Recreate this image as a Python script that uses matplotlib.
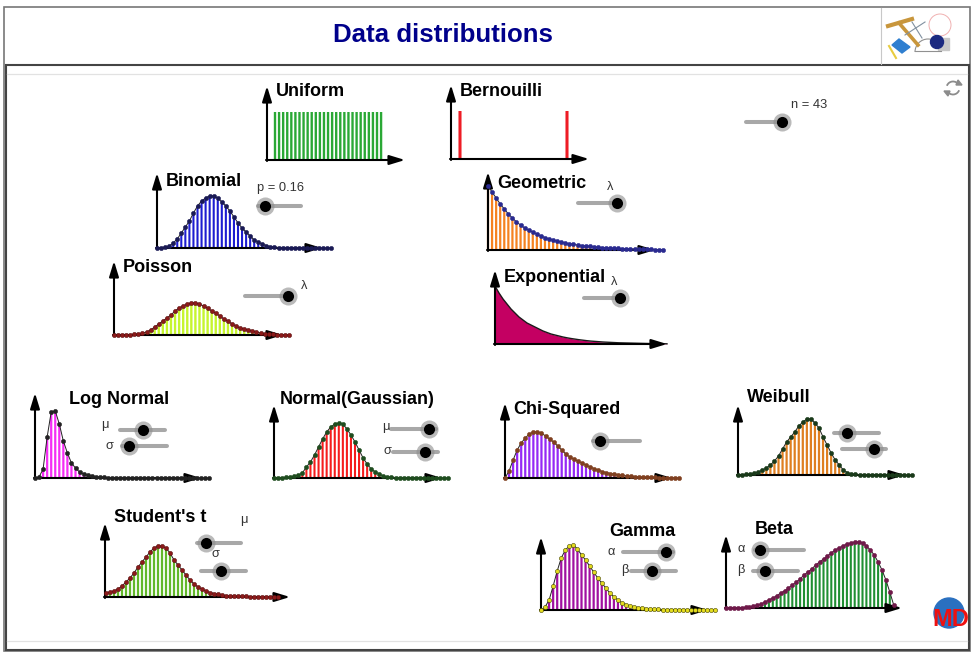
import matplotlib
matplotlib.use('Agg')
import matplotlib.pyplot as plt
from matplotlib.patches import Rectangle, Circle, Arc, Polygon

plt.rcParams['font.family'] = ['Liberation Sans', 'DejaVu Sans']

# Heights of each distribution
uniform = [48] * 27
bernoulli = [48, 48]
binomial = [0, 0.3, 1, 2, 5, 9, 15, 21, 27, 35, 42, 47, 50, 52, 52, 50, 46, 42, 37, 31, 25, 20,
            16, 12, 8, 6, 4, 2.5, 1.5, 1, 0.5, 0.3, 0.2, 0.1, 0.1, 0, 0, 0, 0, 0, 0, 0, 0, 0]
poisson = [0, 0, 0, 0, 0.3, 0.6, 1, 2, 3, 5, 8, 11, 14, 17, 20, 24, 27, 29, 31, 32, 32, 31,
           29, 27, 24, 22, 19, 16, 14, 11, 9, 7, 6, 5, 4, 3, 2, 1.5, 1, 0.7, 0.5, 0.3, 0.2, 0]
geometric = [64, 58, 52, 46, 41, 36, 32, 28, 25, 22, 20, 18, 16, 14, 12.5, 11, 10, 9, 8, 7, 6.3, 5.6,
             5, 4.5, 4, 3.6, 3.2, 2.8, 2.5, 2.2, 2, 1.8, 1.6, 1.4, 1.2, 1.1, 1, 0.9, 0.8, 0.7, 0.6, 0.5, 0.5, 0.4]
exponential = [58, 51, 45, 40, 35, 31, 27, 24, 21, 19, 17, 15, 13, 11.5, 10, 9, 8, 7, 6.2, 5.5, 4.9, 4.3,
               3.8, 3.3, 2.9, 2.6, 2.3, 2, 1.8, 1.6, 1.4, 1.2, 1.1, 1, 0.9, 0.8, 0.7, 0.6, 0.5, 0.4, 0.4, 0.3, 0.3, 0.2]
log_normal = [0, 1, 9, 41, 66, 67, 54, 37, 25, 15, 10, 6, 4, 3, 2, 1.5, 1, 0.7, 0.5, 0.4, 0.3, 0.2,
              0.2, 0.1, 0.1, 0.1, 0, 0, 0, 0, 0, 0, 0, 0, 0, 0, 0, 0, 0, 0, 0, 0, 0, 0]
normal = [0, 0, 0.3, 0.6, 1, 2, 3, 5, 11, 16, 23, 31, 39, 46, 51, 54, 55, 54, 49, 43, 36, 28,
          20, 14, 9, 6, 4, 2, 1.3, 0.8, 0.5, 0.3, 0.2, 0.1, 0, 0, 0, 0, 0, 0, 0, 0, 0, 0]
chi_squared = [0, 7, 18, 28, 35, 40, 44, 46, 46, 45, 42, 39, 36, 32, 28, 24, 21, 19, 17, 15, 13, 11,
               9.5, 8, 6.5, 5.5, 4.5, 3.8, 3.1, 2.6, 2.1, 1.8, 1.5, 1.2, 1, 0.8, 0.7, 0.6, 0.5, 0.4, 0.3, 0.3, 0.2, 0.2]
weibull = [0, 0.3, 0.6, 1, 2, 3, 5, 7, 10, 14, 19, 26, 33, 38, 43, 49, 53, 56, 56, 52, 47, 38,
           30, 22, 15, 10, 5, 2.5, 1, 0.6, 0.4, 0.3, 0.2, 0.1, 0, 0, 0, 0, 0, 0, 0, 0, 0, 0]
student_t = [4, 5, 6, 8, 11, 15, 19, 24, 30, 35, 40, 45, 49, 51, 51, 49, 44, 37, 32, 27, 22, 17,
             13, 10, 8, 6, 4.5, 3.5, 2.7, 2, 1.5, 1.2, 1, 0.8, 0.7, 0.6, 0.5, 0.4, 0.3, 0.3, 0.2, 0.2, 0.1, 0.1]
gamma = [0, 3, 10, 24, 39, 52, 60, 64, 65, 61, 55, 50, 44, 38, 32, 27, 22, 17, 13, 10, 7, 5.5,
         4, 3, 2.5, 2, 1.5, 1.1, 0.9, 0.7, 0.5, 0.4, 0.3, 0.3, 0.2, 0.2, 0.1, 0.1, 0.1, 0, 0, 0, 0, 0]
beta = [0, 0, 0.1, 0.2, 0.4, 0.7, 1.2, 2, 3, 4, 6, 8, 10, 12, 15, 17, 20, 23, 26, 29, 33, 36,
        39, 43, 46, 49, 52, 55, 58, 60, 62, 64, 65, 66, 66, 65, 62, 58, 53, 46, 38, 28, 16, 3]

# heights, axis x, axis y, arrow top, arrow end, first stem offset, step, stem colour, stem width, marker colour, marker edge
panels = [
    (uniform, 267, 160, 86, 405, 8, 4.08, '#2aa835', 1.7, None, None),
    (bernoulli, 451, 159, 85, 589, 9, 107, '#ee1c25', 2.2, None, None),
    (binomial, 157, 248, 173, 322, 0, 4.05, '#1c1cd0', 1.5, '#1a1a55', '#1a1a55'),
    (poisson, 114, 335, 261, 283, 0, 4.07, '#c6f52e', 1.7, '#8b1a1a', '#5a1010'),
    (geometric, 488, 250, 172, 655, 0, 4.07, '#f58220', 1.6, '#2a2a90', '#2a2a90'),
    (log_normal, 35, 478, 393, 201, 0, 4.05, '#f52cf5', 1.6, '#222222', '#222222'),
    (normal, 274, 478, 405, 442, 0, 4.05, '#f51c1c', 1.5, '#1f4d1f', '#1f4d1f'),
    (chi_squared, 505, 478, 403, 672, 0, 4.05, '#9428f5', 1.6, '#804020', '#804020'),
    (weibull, 738, 475, 405, 905, 0, 4.05, '#df7f20', 1.6, '#1a3a1a', '#1a3a1a'),
    (student_t, 105, 597, 523, 290, 1, 4.0, '#62b82a', 1.6, '#8b1a1a', '#5a1010'),
    (gamma, 541, 610, 537, 708, 0, 4.05, '#a010a0', 1.6, '#e4dc20', '#444400'),
    (beta, 726, 608, 535, 902, 0, 3.9, '#1f8f32', 1.5, '#701a4a', '#701a4a'),
]

# text, x, y
titles = [
    ('Uniform', 276, 92), ('Bernouilli', 460, 92), ('Binomial', 166, 181), ('Geometric', 497, 183),
    ('Poisson', 123, 268), ('Exponential', 504, 277), ('Log Normal', 69, 400), ('Normal(Gaussian)', 280, 399),
    ('Chi-Squared', 513, 410), ('Weibull', 747, 397), ("Student's t", 114, 518), ('Gamma', 609, 531),
    ('Beta', 755, 529),
]
labels = [
    ('n = 43', 791, 105), ('p = 0.16', 257, 188), ('λ', 607, 187), ('λ', 301, 286), ('λ', 611, 282),
    ('μ', 101, 425), ('σ', 105, 446), ('μ', 382, 427), ('σ', 383, 451), ('μ', 240, 520), ('σ', 211, 554),
    ('α', 608, 552), ('β', 621, 570), ('α', 737, 549), ('β', 737, 570),
]
# track start, track end, y, knob x
sliders = [
    (746, 783, 122, 782), (258, 301, 206, 265), (578, 617, 203, 617), (245, 288, 296, 288),
    (584, 620, 298, 620), (120, 165, 430, 143), (122, 167, 446, 129), (391, 436, 429, 429),
    (393, 438, 452, 425), (593, 640, 441, 600), (834, 879, 433, 847), (842, 886, 449, 874),
    (197, 241, 543, 206), (201, 246, 571, 221), (623, 673, 552, 666), (631, 676, 571, 652),
    (755, 804, 550, 760), (753, 798, 571, 765),
]


def draw_axes(ax, ox, oy, top, end):
    arrow = dict(arrowstyle='-|>,head_length=0.85,head_width=0.26', color='black', lw=1.5,
                 shrinkA=0, shrinkB=0, mutation_scale=11)
    ax.annotate('', xy=(ox, top), xytext=(ox, oy + 1), arrowprops=arrow, zorder=3)
    ax.annotate('', xy=(end, oy), xytext=(ox - 1, oy), arrowprops=arrow, zorder=3)


def draw_panel(ax, heights, ox, oy, top, end, start, step, colour, width, marker, edge):
    xs = [ox + start + i * step for i in range(len(heights))]
    ys = [oy - h for h in heights]
    stems = ax.vlines(xs, oy, ys, color=colour, lw=width, zorder=2)
    stems.set_snap(False)
    draw_axes(ax, ox, oy, top, end)
    if marker is not None:
        ax.plot(xs, ys, color='#222222', lw=0.7, zorder=4)
        ax.plot(xs, ys, 'o', color=marker, mec=edge, mew=0.4, ms=3, zorder=5)


def draw_slider(ax, x0, x1, y, knob):
    ax.plot([x0, x1], [y, y], color='#a8a8a8', lw=2.9, solid_capstyle='round', zorder=2)
    ax.plot(knob, y, 'o', color='#8c8c8c', alpha=0.6, ms=13, mew=0, zorder=3)
    ax.plot(knob, y, 'o', color='black', ms=8, mew=0, zorder=4)


def draw_logo(ax):
    ax.add_patch(Circle((940, 25), 11, fill=False, ec='#f0b0b0', lw=0.7))
    ax.plot([888, 912], [26, 19], color='#c8963c', lw=3)
    ax.plot([899, 918], [23, 45], color='#c8963c', lw=2.6)
    ax.plot([905, 925], [35, 22], color='#8090a0', lw=0.8)
    ax.plot([912, 922], [22, 38], color='#8090a0', lw=0.8)
    ax.add_patch(Polygon([[892, 45], [899, 39], [910, 47], [902, 53]], color='#2f7fd0'))
    ax.plot([889, 896], [46, 58], color='#e8cc40', lw=1.5)
    ax.add_patch(Arc((928, 52), 26, 26, theta1=180, theta2=360, ec='#909090', lw=0.8))
    ax.plot([915, 941], [51, 51], color='#909090', lw=0.8)
    ax.add_patch(Rectangle((938, 38), 11, 12, color='#c8c8c8'))
    ax.add_patch(Circle((937, 42), 6.5, color='#1c2a80'))


def draw_refresh(ax):
    ax.add_patch(Arc((953, 88), 13, 13, theta1=200, theta2=330, ec='#8c8c8c', lw=1.3))
    ax.add_patch(Arc((953, 88), 13, 13, theta1=20, theta2=150, ec='#8c8c8c', lw=1.3))
    ax.add_patch(Polygon([[958, 80], [962, 85], [956, 85]], color='#8c8c8c'))
    ax.add_patch(Polygon([[948, 96], [944, 91], [950, 91]], color='#8c8c8c'))


fig = plt.figure(figsize=(9.78, 6.56), dpi=100)
ax = fig.add_axes([0, 0, 1, 1])
ax.set_xlim(0, 978)
ax.set_ylim(656, 0)
ax.axis('off')

# page frame
ax.add_patch(Rectangle((4, 7), 966, 644, fill=False, ec='#777777', lw=1.2))
ax.add_patch(Rectangle((5.5, 65), 963, 585, fill=False, ec='#444444', lw=1.5))
ax.plot([7, 967], [74, 74], color='#e2e2e2', lw=0.9)
ax.plot([7, 967], [641, 641], color='#e2e2e2', lw=0.9)
ax.plot([881, 881], [8, 64], color='#c8c8c8', lw=0.8)
ax.text(443, 35, 'Data distributions', color='#00008b', fontsize=18.6, fontweight='bold', ha='center', va='center')

draw_logo(ax)
draw_refresh(ax)

for p in panels:
    draw_panel(ax, *p)

# the exponential is a filled area rather than stems
exp_x = [495 + i * 4 for i in range(len(exponential))]
exp_y = [344 - h for h in exponential]
ax.fill_between(exp_x, exp_y, 344, color='#c40062', lw=0, zorder=2)
ax.plot(exp_x, exp_y, color='#1a1a1a', lw=1, zorder=3)
draw_axes(ax, 495, 344, 270, 667)

for name, x, y in titles:
    ax.text(x, y, name, fontsize=13, fontweight='bold', color='black', ha='left', va='center', zorder=6)
for name, x, y in labels:
    ax.text(x, y, name, fontsize=9.3, color='#333333', ha='left', va='center', zorder=6)
for s in sliders:
    draw_slider(ax, *s)

# globe badge in the corner
ax.add_patch(Circle((949, 613), 15, color='#2a70c0', zorder=2))
ax.text(951, 620, 'MD', fontsize=17, fontweight='bold', color='#ee1111', ha='center', va='center', zorder=3)

fig.savefig('out.png', dpi=100)
